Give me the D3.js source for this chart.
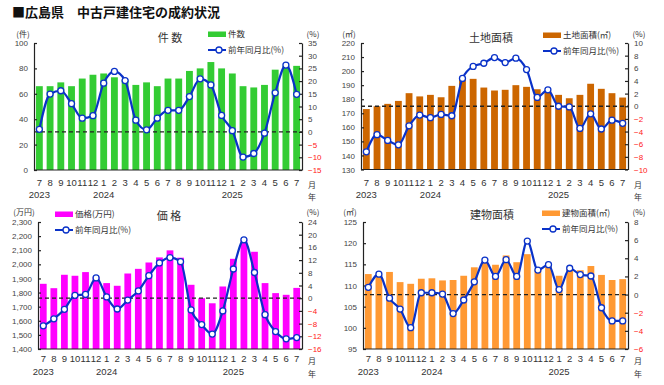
<!DOCTYPE html>
<html>
<head>
<meta charset="utf-8">
<script src="https://cdn.jsdelivr.net/npm/d3@7"></script>
<style>
  body { margin: 0; background: #fff; }
  svg { font-family: "Noto Sans CJK JP", "Noto Sans", sans-serif; }
</style>
</head>
<body>
<svg id="chart" width="664" height="385"></svg>
<script>
// months 2023/7 .. 2025/7
var months = ["7","8","9","10","11","12","1","2","3","4","5","6","7","8","9","10","11","12","1","2","3","4","5","6","7"];
var years = ["2023","","","","","","2024","","","","","","","","","","","","2025","","","","","",""];

var countBars = [66,66,69,66,72,75,76,73,71,67,69,66,72,72,78,80,85,80,76,66,65,67,79,82,82];
var countYoY  = [1.0,14.9,16.2,11.1,5.4,6.4,19.2,23.8,20.2,4.6,0.8,5.4,8.5,8.5,13.9,20.9,18.5,6.5,0.5,-9.9,-8.5,-0.5,15.4,26.3,14.8];

var landBars = [173,175,176.7,178.8,184.3,182,183.1,181.4,189.5,194,194.5,188.3,186.2,186.7,190,188.8,187.1,185.5,183.1,180.7,183.1,191,187.4,184.3,181.2];
var landYoY  = [-7.2,-4.5,-5.4,-6.1,-3.1,-1.4,-1.8,-1.3,-1.5,4.4,6.3,6.8,7.7,6.9,7.6,5.8,1.4,2.6,0,-0.1,-3.5,-1.2,-3.6,-2.2,-2.7];

var priceBars = [1862,1831,1926,1919,1945,1910,1867,1848,1935,1968,2013,2049,2099,2047,1855,1760,1724,1843,2039,2175,2089,1867,1796,1784,1833];
var priceYoY  = [-8.7,-6.5,-3.5,0.9,1.2,6.4,0.4,-3.4,-0.6,2.3,7.1,11.1,12.8,11.5,-3.7,-8.3,-11.3,-4.0,9.2,18.4,8.1,-5.2,-10.5,-12.8,-12.4];

var bldgBars = [112.7,112.5,113.2,110.8,110.4,111.6,111.7,111.2,111.3,112.3,114.3,115.5,114.9,117.1,115.5,117.4,113.7,114.5,112.3,113.9,113.6,114.6,112.5,111.3,111.5];
var bldgYoY  = [0.8,2.25,-0.4,-1.6,-3.65,0.2,0.2,0.05,-2.1,-0.6,1.4,3.8,2.0,3.85,2.0,5.9,2.7,3.3,0.55,2.9,2.2,2.05,-1.45,-2.9,-2.9];

var lineColor = "#0a32c8";
var numFont = "'Liberation Sans', Arial, sans-serif";
var svg = d3.select("#chart");

svg.append("text")
    .attr("x", 12).attr("y", 17)
    .attr("font-size", 13).attr("font-weight", "bold").attr("fill", "#111")
    .text("■広島県　中古戸建住宅の成約状況");

function drawPanel(cfg) {
    var x = d3.scaleBand()
        .domain(d3.range(months.length))
        .range([cfg.x0, cfg.x1])
        .paddingInner(0.36).paddingOuter(0.18);

    var yL = d3.scaleLinear().domain(cfg.leftDomain).range([cfg.y1, cfg.y0]);
    var yR = d3.scaleLinear().domain(cfg.rightDomain).range([cfg.y1, cfg.y0]);

    // bars
    svg.append("g")
        .selectAll("rect")
        .data(cfg.bars)
        .join("rect")
        .attr("x", (d, i) => x(i))
        .attr("width", x.bandwidth())
        .attr("y", d => yL(d))
        .attr("height", d => yL(cfg.leftDomain[0]) - yL(d))
        .attr("fill", cfg.color);

    // zero line
    svg.append("line")
        .attr("x1", cfg.x0).attr("x2", cfg.x1)
        .attr("y1", yR(0)).attr("y2", yR(0))
        .attr("stroke", "#222").attr("stroke-width", 1.3)
        .attr("stroke-dasharray", "4,3");

    // left axis
    var gl = svg.append("g")
        .attr("transform", `translate(${cfg.x0},0)`)
        .call(d3.axisLeft(yL).tickValues(cfg.leftTicks).tickFormat(cfg.leftFormat)
            .tickSizeInner(-3).tickSizeOuter(0).tickPadding(6));
    gl.selectAll("text").attr("font-size", 8).attr("fill", "#444").attr("font-family", numFont);
    gl.selectAll("line, path").attr("stroke", "#222").attr("stroke-width", 1.2);

    // right axis
    var gr = svg.append("g")
        .attr("transform", `translate(${cfg.x1},0)`)
        .call(d3.axisRight(yR).tickValues(cfg.rightTicks)
            .tickSizeInner(-3).tickSizeOuter(0).tickPadding(6));
    gr.selectAll("text").attr("font-size", 8).attr("font-family", numFont)
        .attr("fill", d => d < 0 ? "#ff2020" : "#444");
    gr.selectAll("line, path").attr("stroke", "#222").attr("stroke-width", 1.2);

    // bottom line
    svg.append("line")
        .attr("x1", cfg.x0).attr("x2", cfg.x1)
        .attr("y1", cfg.y1).attr("y2", cfg.y1)
        .attr("stroke", "#222").attr("stroke-width", 1.2);

    // yoy line
    var line = d3.line()
        .x((d, i) => x(i) + x.bandwidth() / 2)
        .y(d => yR(d))
        .curve(d3.curveMonotoneX);

    svg.append("path")
        .datum(cfg.yoy)
        .attr("fill", "none")
        .attr("stroke", lineColor)
        .attr("stroke-width", 2.2)
        .attr("d", line);

    svg.append("g")
        .selectAll("circle")
        .data(cfg.yoy)
        .join("circle")
        .attr("cx", (d, i) => x(i) + x.bandwidth() / 2)
        .attr("cy", d => yR(d))
        .attr("r", 3)
        .attr("fill", "#fff")
        .attr("stroke", lineColor)
        .attr("stroke-width", 1.3);

    // month / year labels
    svg.append("g")
        .attr("font-size", 9.5).attr("font-family", numFont)
        .attr("fill", "#333").attr("text-anchor", "middle")
        .selectAll("text")
        .data(months)
        .join("text")
        .attr("x", (d, i) => x(i) + x.bandwidth() / 2)
        .attr("y", cfg.monthY)
        .text(d => d);

    svg.append("g")
        .attr("font-size", 9.5).attr("font-family", numFont)
        .attr("fill", "#333").attr("text-anchor", "middle")
        .selectAll("text")
        .data(years.filter(d => d))
        .join("text")
        .attr("x", d => x(years.indexOf(d)) + x.bandwidth() / 2)
        .attr("y", cfg.yearY)
        .text(d => d);

    svg.append("text").attr("x", cfg.x1 + 10).attr("y", cfg.monthY + 2)
        .attr("font-size", 8).attr("fill", "#333").attr("text-anchor", "middle").text("月");
    svg.append("text").attr("x", cfg.x1 + 10).attr("y", cfg.yearY + 1.5)
        .attr("font-size", 8).attr("fill", "#333").attr("text-anchor", "middle").text("年");

    // titles & units
    svg.append("text").attr("x", cfg.titleX).attr("y", cfg.titleY)
        .attr("font-size", 11).attr("fill", "#333").attr("text-anchor", "middle")
        .text(cfg.title);
    svg.append("text").attr("x", cfg.unitX).attr("y", cfg.unitY)
        .attr("font-size", 8).attr("fill", "#333").attr("text-anchor", "middle")
        .text(cfg.unit);
    svg.append("text").attr("x", cfg.x1 + 11).attr("y", cfg.unitY)
        .attr("font-size", 8).attr("fill", "#333").attr("text-anchor", "middle")
        .text("(%)");

    // legend
    var lg = svg.append("g").attr("transform", `translate(${cfg.legX},${cfg.legY})`)
        .attr("font-size", 8.5).attr("fill", "#333");
    lg.append("rect").attr("x", 0).attr("y", -2.5).attr("width", 18).attr("height", 5.5)
        .attr("fill", cfg.color);
    lg.append("text").attr("x", 20).attr("y", 3).text(cfg.legend);
    lg.append("line").attr("x1", 0).attr("x2", 18).attr("y1", 16).attr("y2", 16)
        .attr("stroke", lineColor).attr("stroke-width", 2);
    lg.append("circle").attr("cx", 11).attr("cy", 16).attr("r", 3)
        .attr("fill", "#fff").attr("stroke", lineColor).attr("stroke-width", 1.3);
    lg.append("text").attr("x", 20).attr("y", 19).text("前年同月比(%)");
}

var comma = d3.format(",");

drawPanel({
    x0: 34, x1: 302, y0: 43, y1: 170,
    leftDomain: [0, 100], leftTicks: d3.range(0, 101, 20), leftFormat: d => d,
    rightDomain: [-15, 35], rightTicks: d3.range(-15, 36, 5),
    bars: countBars, yoy: countYoY, color: "#33cc33",
    title: "件 数", titleX: 170, titleY: 42,
    unit: "(件)", unitX: 23, unitY: 37,
    legend: "件数", legX: 208, legY: 34,
    monthY: 186, yearY: 198
});

drawPanel({
    x0: 361, x1: 628, y0: 43, y1: 169.5,
    leftDomain: [130, 220], leftTicks: d3.range(130, 221, 10), leftFormat: d => d,
    rightDomain: [-10, 10], rightTicks: d3.range(-10, 11, 2),
    bars: landBars, yoy: landYoY, color: "#cc6600",
    title: "土地面積", titleX: 491, titleY: 42,
    unit: "(㎡)", unitX: 349, unitY: 37,
    legend: "土地面積(㎡)", legX: 543, legY: 35,
    monthY: 186, yearY: 198
});

drawPanel({
    x0: 38, x1: 302, y0: 222, y1: 349,
    leftDomain: [1400, 2300], leftTicks: d3.range(1400, 2301, 100), leftFormat: comma,
    rightDomain: [-16, 24], rightTicks: d3.range(-16, 25, 4),
    bars: priceBars, yoy: priceYoY, color: "#ff00ff",
    title: "価 格", titleX: 169, titleY: 220,
    unit: "(万円)", unitX: 24, unitY: 215,
    legend: "価格(万円)", legX: 55, legY: 214,
    monthY: 362, yearY: 375
});

drawPanel({
    x0: 363, x1: 628, y0: 222, y1: 349,
    leftDomain: [95, 125], leftTicks: d3.range(95, 126, 5), leftFormat: d => d,
    rightDomain: [-6, 8], rightTicks: d3.range(-6, 9, 2),
    bars: bldgBars, yoy: bldgYoY, color: "#ff9933",
    title: "建物面積", titleX: 492, titleY: 219,
    unit: "(㎡)", unitX: 350, unitY: 215,
    legend: "建物面積(㎡)", legX: 542, legY: 213,
    monthY: 362, yearY: 375
});
</script>
</body>
</html>
